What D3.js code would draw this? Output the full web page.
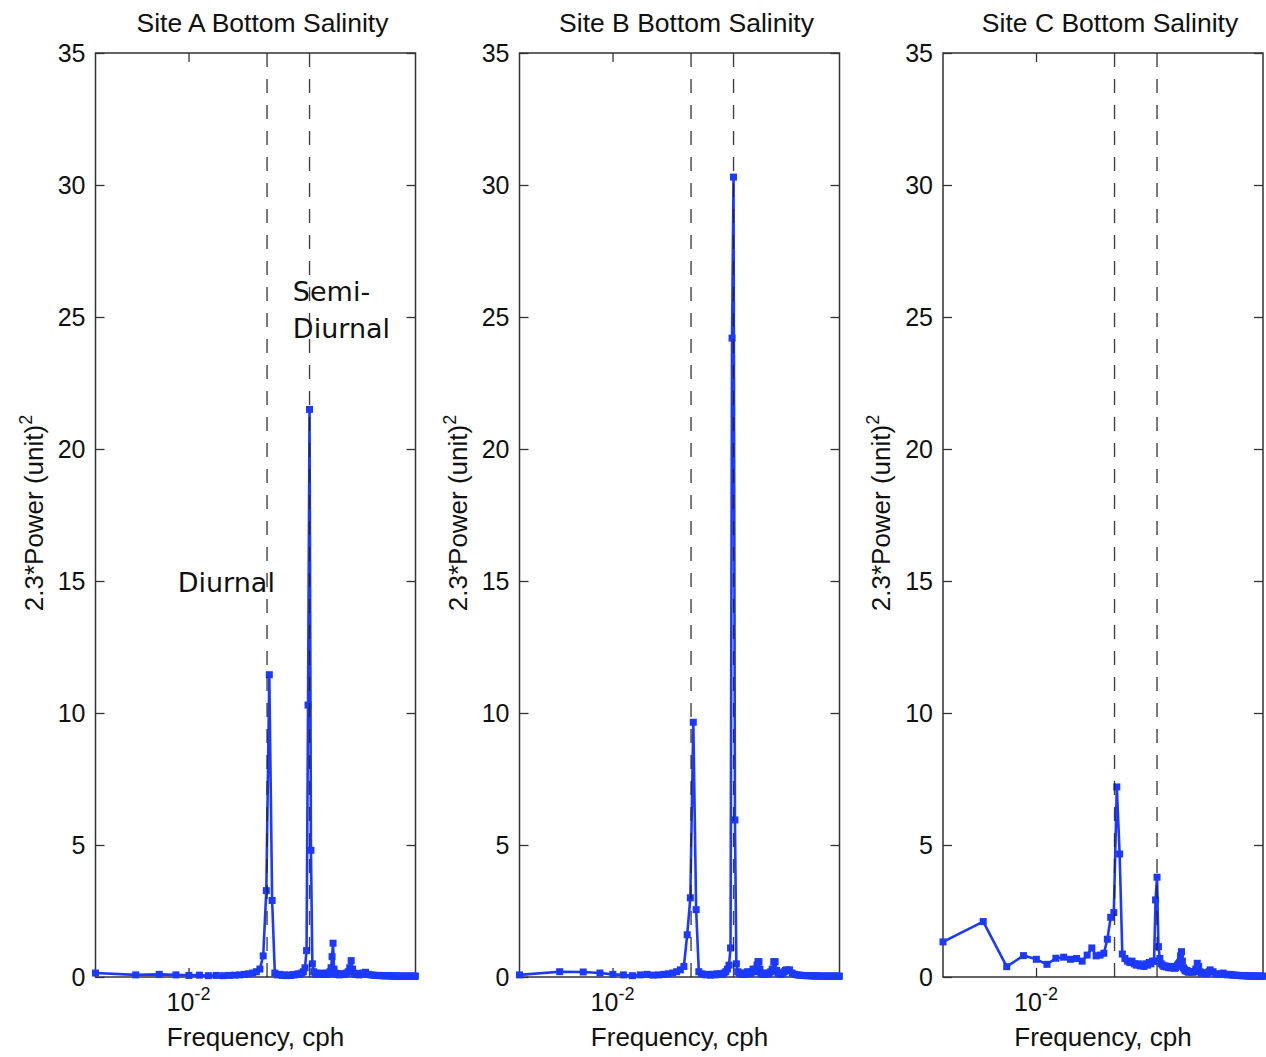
<!DOCTYPE html>
<html>
<head>
<meta charset="utf-8">
<script src="https://cdn.jsdelivr.net/npm/d3@7"></script>
<style>
  body { margin: 0; background: #fff; }
  svg { display: block; }
  text { font-family: 'Liberation Sans', Arial, Helvetica, sans-serif; fill: #111; }
</style>
</head>
<body>
<svg id="chart" width="1266" height="1057"></svg>
<script>
// frequency bins (cph), shared by the three sites
const freq = [
  0.002012, 0.004024, 0.006036, 0.008048, 0.01006, 0.01207, 0.01408, 0.01610, 0.01811, 0.02012,
  0.02213, 0.02414, 0.02616, 0.02817, 0.03018, 0.03219, 0.03420, 0.03622, 0.03823, 0.04024,
  0.04225, 0.04426, 0.04628, 0.04829, 0.05030, 0.05231, 0.05432, 0.05634, 0.05835, 0.06036,
  0.06237, 0.06438, 0.06640, 0.06841, 0.07042, 0.07243, 0.07444, 0.07646, 0.07847, 0.08048,
  0.08249, 0.08450, 0.08652, 0.08853, 0.09054, 0.09255, 0.09456, 0.09658, 0.09859, 0.1006,
  0.1026, 0.1046, 0.1066, 0.1086, 0.1107, 0.1127, 0.1147, 0.1167, 0.1187, 0.1207,
  0.1227, 0.1247, 0.1268, 0.1288, 0.1308, 0.1328, 0.1348, 0.1368, 0.1388, 0.1408,
  0.1449, 0.1489, 0.1529, 0.1569, 0.1610, 0.1650, 0.1690, 0.1730, 0.1771, 0.1811,
  0.1851, 0.1891, 0.1932, 0.1972, 0.2012,
  0.2113, 0.2213, 0.2314, 0.2414, 0.2515, 0.2616, 0.2716, 0.2817, 0.2917, 0.3018,
  0.3119, 0.3219, 0.3320, 0.3420, 0.3521, 0.3622, 0.3722, 0.3823, 0.3923, 0.4024,
  0.4125, 0.4225, 0.4326, 0.4426, 0.4527, 0.4628, 0.4728, 0.4829, 0.4929, 0.4990
];

// 2.3*power for each site
const powerA = [
  0.15, 0.08, 0.1, 0.08, 0.06, 0.07, 0.05, 0.06, 0.05, 0.06,
  0.07, 0.08, 0.1, 0.12, 0.15, 0.2, 0.3, 0.8, 3.27, 11.45,
  2.9, 0.15, 0.08, 0.1, 0.06, 0.08, 0.05, 0.07, 0.06, 0.09,
  0.08, 0.1, 0.12, 0.1, 0.15, 0.2, 0.35, 1.0, 10.3, 21.5,
  4.8, 0.5, 0.2, 0.12, 0.1, 0.15, 0.12, 0.1, 0.14, 0.12,
  0.1, 0.12, 0.15, 0.1, 0.12, 0.15, 0.2, 0.35, 0.77, 1.28,
  0.3, 0.15, 0.12, 0.1, 0.12, 0.1, 0.08, 0.1, 0.12, 0.1,
  0.1, 0.12, 0.15, 0.2, 0.35, 0.62, 0.3, 0.15, 0.1, 0.12,
  0.1, 0.08, 0.1, 0.12, 0.15,
  0.18, 0.1, 0.08, 0.07, 0.06, 0.06, 0.05, 0.05, 0.05, 0.04,
  0.05, 0.04, 0.04, 0.04, 0.03, 0.04, 0.03, 0.03, 0.03, 0.03,
  0.03, 0.03, 0.03, 0.03, 0.03, 0.03, 0.03, 0.03, 0.03, 0.03
];
const powerB = [
  0.08, 0.2, 0.19, 0.15, 0.1, 0.08, 0.05, 0.08, 0.1, 0.07,
  0.08, 0.1, 0.12, 0.15, 0.2, 0.27, 0.4, 1.6, 3.0, 9.65,
  2.55, 0.2, 0.12, 0.1, 0.08, 0.1, 0.07, 0.1, 0.08, 0.12,
  0.1, 0.12, 0.1, 0.15, 0.2, 0.3, 0.45, 1.1, 24.2, 30.3,
  5.95, 0.5, 0.2, 0.15, 0.12, 0.1, 0.15, 0.12, 0.1, 0.15,
  0.2, 0.15, 0.12, 0.15, 0.2, 0.3, 0.25, 0.2, 0.3, 0.45,
  0.58, 0.58, 0.3, 0.15, 0.12, 0.1, 0.12, 0.15, 0.12, 0.1,
  0.12, 0.15, 0.2, 0.3, 0.58, 0.58, 0.25, 0.15, 0.12, 0.1,
  0.12, 0.15, 0.2, 0.25, 0.27,
  0.27, 0.15, 0.1, 0.08, 0.07, 0.06, 0.06, 0.05, 0.05, 0.05,
  0.04, 0.04, 0.04, 0.04, 0.04, 0.03, 0.03, 0.03, 0.03, 0.03,
  0.03, 0.03, 0.03, 0.03, 0.03, 0.03, 0.03, 0.03, 0.03, 0.03
];
const powerC = [
  1.33, 2.1, 0.39, 0.81, 0.67, 0.48, 0.71, 0.75, 0.67, 0.7,
  0.6, 0.83, 1.1, 0.8, 0.83, 0.9, 1.43, 2.26, 2.44, 7.2,
  4.66, 0.87, 0.7, 0.6, 0.55, 0.6, 0.5, 0.45, 0.5, 0.42,
  0.45, 0.4, 0.5, 0.45, 0.55, 0.5, 0.6, 0.6, 2.92, 3.78,
  1.15, 0.7, 0.5, 0.45, 0.4, 0.42, 0.38, 0.4, 0.35, 0.38,
  0.35, 0.4, 0.36, 0.33, 0.35, 0.4, 0.45, 0.5, 0.55, 0.8,
  0.96, 0.6, 0.35, 0.3, 0.25, 0.22, 0.25, 0.2, 0.18, 0.2,
  0.2, 0.18, 0.2, 0.3, 0.52, 0.4, 0.2, 0.15, 0.14, 0.15,
  0.12, 0.14, 0.15, 0.2, 0.27,
  0.2, 0.12, 0.1, 0.12, 0.15, 0.1, 0.08, 0.1, 0.08, 0.07,
  0.07, 0.06, 0.06, 0.05, 0.05, 0.05, 0.05, 0.04, 0.04, 0.04,
  0.04, 0.04, 0.03, 0.03, 0.03, 0.03, 0.03, 0.03, 0.03, 0.03
];

const titles = ['Site A Bottom Salinity', 'Site B Bottom Salinity', 'Site C Bottom Salinity'];
const yTicks = [0, 5, 10, 15, 20, 25, 30, 35];
const xTicks = [0.01];
const tidalLines = [0.0387, 0.0805]; // diurnal, semi-diurnal
const freqDomain = [0.002012, 0.5];
const powerDomain = [0, 35];

// layout
const panelLefts = [95.5, 519.5, 943];
const panelWidth = 320;
const plotTop = 53;
const plotBottom = 977;
const blue = '#1c3aff';

const svg = d3.select('#chart');
const series = [powerA, powerB, powerC];

series.forEach((power, i) => {
  const left = panelLefts[i];
  const right = left + panelWidth;
  const x = d3.scaleLog().domain(freqDomain).range([left, right]);
  const y = d3.scaleLinear().domain(powerDomain).range([plotBottom, plotTop]);
  const g = svg.append('g');

  // y axis left (ticks inside, labels outside)
  g.append('g')
    .attr('transform', `translate(${left},0)`)
    .call(d3.axisLeft(y).tickValues(yTicks).tickSize(-9).tickPadding(10))
    .call(a => a.select('.domain').remove())
    .call(a => a.selectAll('line').attr('stroke', '#333').attr('stroke-width', 1.3))
    .call(a => a.selectAll('text').attr('font-size', 25).attr('fill', '#111')
      .style('font-family', "'Liberation Sans', Arial, sans-serif"));

  // y axis right (ticks only)
  g.append('g')
    .attr('transform', `translate(${right},0)`)
    .call(d3.axisRight(y).tickValues(yTicks).tickSize(-9).tickFormat(''))
    .call(a => a.select('.domain').remove())
    .call(a => a.selectAll('line').attr('stroke', '#333').attr('stroke-width', 1.3));

  // x axis top and bottom (ticks only)
  g.append('g')
    .attr('transform', `translate(0,${plotTop})`)
    .call(d3.axisTop(x).tickValues(xTicks).tickSize(-9).tickFormat(''))
    .call(a => a.select('.domain').remove())
    .call(a => a.selectAll('line').attr('stroke', '#333').attr('stroke-width', 1.3));
  g.append('g')
    .attr('transform', `translate(0,${plotBottom})`)
    .call(d3.axisBottom(x).tickValues(xTicks).tickSize(-9).tickFormat(''))
    .call(a => a.select('.domain').remove())
    .call(a => a.selectAll('line').attr('stroke', '#333').attr('stroke-width', 1.3));

  // 10^-2 label
  xTicks.forEach(t => {
    const lbl = g.append('text')
      .attr('x', x(t))
      .attr('y', 1011)
      .attr('text-anchor', 'middle')
      .attr('font-size', 25);
    lbl.append('tspan').text('10');
    lbl.append('tspan').attr('dy', -11).attr('font-size', 18).text('-2');
  });

  // box
  g.append('rect')
    .attr('x', left).attr('y', plotTop)
    .attr('width', panelWidth).attr('height', plotBottom - plotTop)
    .attr('fill', 'none').attr('stroke', '#333').attr('stroke-width', 1.5);

  // data line + markers
  const pts = d3.zip(freq, power);
  const line = d3.line().x(d => x(d[0])).y(d => y(d[1]));
  g.append('path')
    .datum(pts)
    .attr('d', line)
    .attr('fill', 'none')
    .attr('stroke', blue)
    .attr('stroke-width', 2.6)
    .attr('stroke-linejoin', 'round');
  g.selectAll('.mk')
    .data(pts)
    .join('rect')
    .attr('class', 'mk')
    .attr('x', d => x(d[0]) - 3.5)
    .attr('y', d => y(d[1]) - 3.5)
    .attr('width', 7)
    .attr('height', 7)
    .attr('fill', blue);

  // tidal dashed lines on top
  tidalLines.forEach(f => {
    g.append('line')
      .attr('x1', x(f)).attr('x2', x(f))
      .attr('y1', plotTop).attr('y2', plotBottom)
      .attr('stroke', '#222')
      .attr('stroke-width', 1.4)
      .attr('stroke-dasharray', '14,12')
      .attr('opacity', 0.85);
  });

  // title
  g.append('text')
    .attr('x', (left + right) / 2 + 7)
    .attr('y', 32)
    .attr('text-anchor', 'middle')
    .attr('font-size', 26.5)
    .text(titles[i]);

  // x label
  g.append('text')
    .attr('x', (left + right) / 2)
    .attr('y', 1046)
    .attr('text-anchor', 'middle')
    .attr('font-size', 26)
    .text('Frequency, cph');

  // y label
  const yl = g.append('text')
    .attr('transform', `translate(${left - 53},${(plotTop + plotBottom) / 2 - 2}) rotate(-90)`)
    .attr('text-anchor', 'middle')
    .attr('font-size', 26);
  yl.append('tspan').text('2.3*Power (unit)');
  yl.append('tspan').attr('dy', -11).attr('font-size', 18).text('2');

  // annotations in first panel
  if (i === 0) {
    const ann = [
      { f: 0.0083, v: 14.6, t: 'Diurnal' },
      { f: 0.0604, v: 25.6, t: 'Semi-' },
      { f: 0.0604, v: 24.2, t: 'Diurnal' }
    ];
    ann.forEach(a => {
      g.append('text')
        .attr('x', x(a.f))
        .attr('y', y(a.v))
        .attr('font-size', 27)
        .style('font-family', "'DejaVu Sans', sans-serif")
        .text(a.t);
    });
  }
});
</script>
</body>
</html>
